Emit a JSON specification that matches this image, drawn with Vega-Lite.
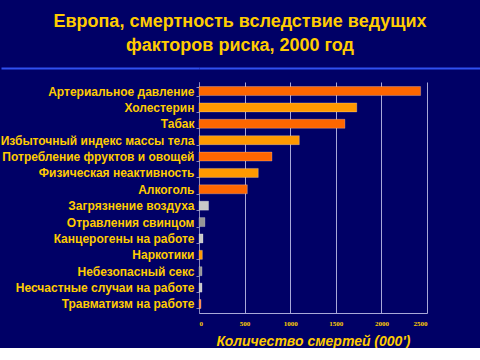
{
  "$schema": "https://vega.github.io/schema/vega-lite/v6.json",
  "background": "#000066",
  "padding": {"left": 0, "top": 13, "right": 0, "bottom": 0},
  "title": {
    "text": ["Европа, смертность вследствие ведущих", "факторов риска, 2000 год"],
    "font": "Liberation Sans",
    "fontSize": 18,
    "fontWeight": "bold",
    "color": "#FFCC00",
    "lineHeight": 24,
    "anchor": "middle",
    "frame": "bounds",
    "offset": 12
  },
  "spacing": 7,
  "config": {"view": {"stroke": null}, "font": "Liberation Sans"},
  "vconcat": [
    {
      "width": 281,
      "height": 2,
      "data": {"values": []},
      "mark": "point",
      "encoding": {
        "y": {
          "datum": "line",
          "type": "nominal",
          "scale": {"domain": ["line"]},
          "axis": {
            "title": null,
            "labels": false,
            "domain": false,
            "ticks": true,
            "tickSize": 198,
            "tickWidth": 2,
            "tickColor": "#3050F0",
            "grid": true,
            "gridColor": "#3050F0",
            "gridWidth": 2
          }
        }
      }
    },
    {
      "width": 228,
      "height": 231,
      "data": {
        "values": [
          {"factor": "Артериальное давление", "deaths": 2430, "group": "A"},
          {"factor": "Холестерин", "deaths": 1730, "group": "B"},
          {"factor": "Табак", "deaths": 1600, "group": "A"},
          {"factor": "Избыточный индекс массы тела", "deaths": 1100, "group": "B"},
          {"factor": "Потребление фруктов и овощей", "deaths": 800, "group": "A"},
          {"factor": "Физическая неактивность", "deaths": 650, "group": "B"},
          {"factor": "Алкоголь", "deaths": 530, "group": "A"},
          {"factor": "Загрязнение воздуха", "deaths": 105, "group": "C"},
          {"factor": "Отравления свинцом", "deaths": 65, "group": "D"},
          {"factor": "Канцерогены на работе", "deaths": 44, "group": "C"},
          {"factor": "Наркотики", "deaths": 37, "group": "B"},
          {"factor": "Небезопасный секс", "deaths": 33, "group": "D"},
          {"factor": "Несчастные случаи на работе", "deaths": 33, "group": "C"},
          {"factor": "Травматизм на работе", "deaths": 22, "group": "E"}
        ]
      },
      "mark": {"type": "bar", "stroke": "#FFFFFF", "strokeOpacity": 0.35, "strokeWidth": 0.7},
      "encoding": {
        "y": {
          "field": "factor",
          "type": "nominal",
          "sort": null,
          "scale": {"paddingInner": 0.45, "paddingOuter": 0.275},
          "axis": {
            "title": null,
            "labelColor": "#FFCC00",
            "labelFont": "Liberation Sans",
            "labelFontSize": 12,
            "labelFontWeight": "bold",
            "labelPadding": 2,
            "labelLimit": 300,
            "tickSize": 3,
            "tickColor": "#8888BB",
            "domainColor": "#8888BB",
            "tickBand": "extent",
            "grid": false
          }
        },
        "x": {
          "field": "deaths",
          "type": "quantitative",
          "scale": {"domain": [0, 2500], "nice": false},
          "axis": {
            "values": [0, 500, 1000, 1500, 2000, 2500],
            "format": "d",
            "title": "Количество смертей (000')",
            "titleColor": "#FFCC00",
            "titleFont": "Liberation Sans",
            "titleFontSize": 14,
            "titleFontStyle": "italic",
            "titleFontWeight": "bold",
            "titlePadding": 8,
            "labelColor": "#FFCC00",
            "labelFont": "Liberation Serif",
            "labelFontSize": 7,
            "labelFontWeight": "bold",
            "labelPadding": 6,
            "ticks": false,
            "grid": true,
            "gridColor": "#A8A8D8",
            "gridWidth": 1,
            "domainColor": "#A8A8D8"
          }
        },
        "color": {
          "field": "group",
          "type": "nominal",
          "scale": {"domain": ["A", "B", "C", "D", "E"], "range": ["#FF6600", "#FF9900", "#C8C8C8", "#969696", "#FF7F3F"]},
          "legend": null
        }
      }
    }
  ]
}
